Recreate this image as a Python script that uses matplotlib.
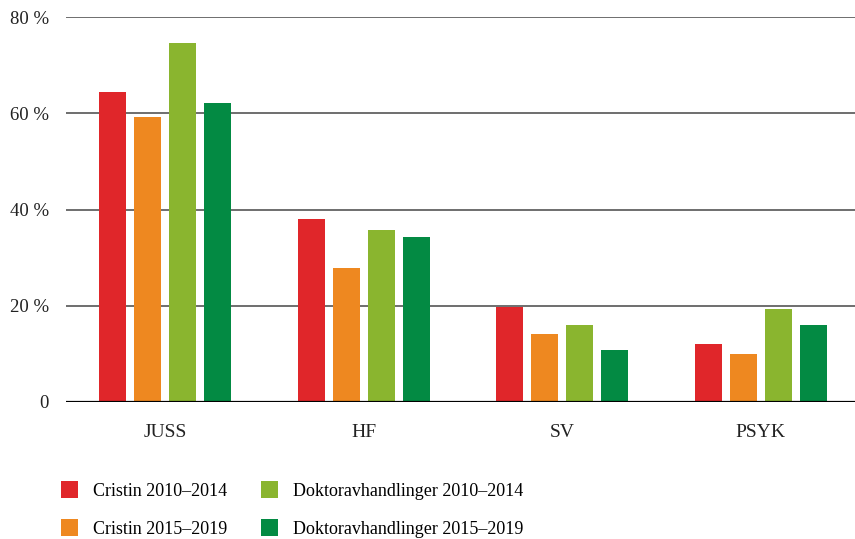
import matplotlib
matplotlib.use("Agg")
import matplotlib.pyplot as plt
import numpy as np

categories = ["JUSS", "HF", "SV", "PSYK"]
series_names = ["Cristin 2010–2014", "Cristin 2015–2019",
                "Doktoravhandlinger 2010–2014", "Doktoravhandlinger 2015–2019"]
cristin_2010_2014 = [64.4, 38.0, 19.8, 12.0]
cristin_2015_2019 = [59.2, 27.8, 14.1, 10.0]
dokt_2010_2014 = [74.6, 35.7, 16.0, 19.3]
dokt_2015_2019 = [62.1, 34.3, 10.8, 16.0]
yticks = [0, 20, 40, 60, 80]
ytick_labels = ["0", "20 %", "40 %", "60 %", "80 %"]
colors = ["#E0262A", "#EE8820", "#8AB52F", "#038A43"]

plt.rcParams['font.family'] = ['Liberation Serif', 'DejaVu Serif']

fig = plt.figure(figsize=(8.55, 5.39), dpi=100)
ax = fig.add_axes([66/855, 137/539, 794/855, 385/539])

values = [cristin_2010_2014, cristin_2015_2019, dokt_2010_2014, dokt_2015_2019]
x = np.arange(len(categories))
width = 27/198.5
step = 35/198.5
for i, (vals, name, c) in enumerate(zip(values, series_names, colors)):
    ax.bar(x + (i - 1.5) * step, vals, width=width, color=c, label=name, zorder=3)

ax.set_xlim(-0.5, 3.5)
ax.set_ylim(0, 80)
ax.set_yticks(yticks)
ax.set_yticklabels(ytick_labels, fontsize=13.5, color="#222222")
ax.set_xticks(x)
ax.set_xticklabels(categories, fontsize=14, color="#222222")
ax.tick_params(axis='both', length=0)
ax.tick_params(axis='y', pad=12.5)
ax.tick_params(axis='x', pad=16)
for v in yticks[1:]:
    ax.axhline(v, color="#555555", lw=1.2, zorder=1)
ax.axhline(0, color="black", lw=1.6, zorder=4)
for s in ax.spines.values():
    s.set_visible(False)

fig.legend(loc='upper left', bbox_to_anchor=(61/855, 1 - 481/539), ncol=2,
           frameon=False, fontsize=13, handlelength=0.95, handleheight=1.05,
           handletextpad=0.8, columnspacing=1.9, labelspacing=1.1,
           borderpad=0, borderaxespad=0)

fig.savefig("out.png", dpi=100)
